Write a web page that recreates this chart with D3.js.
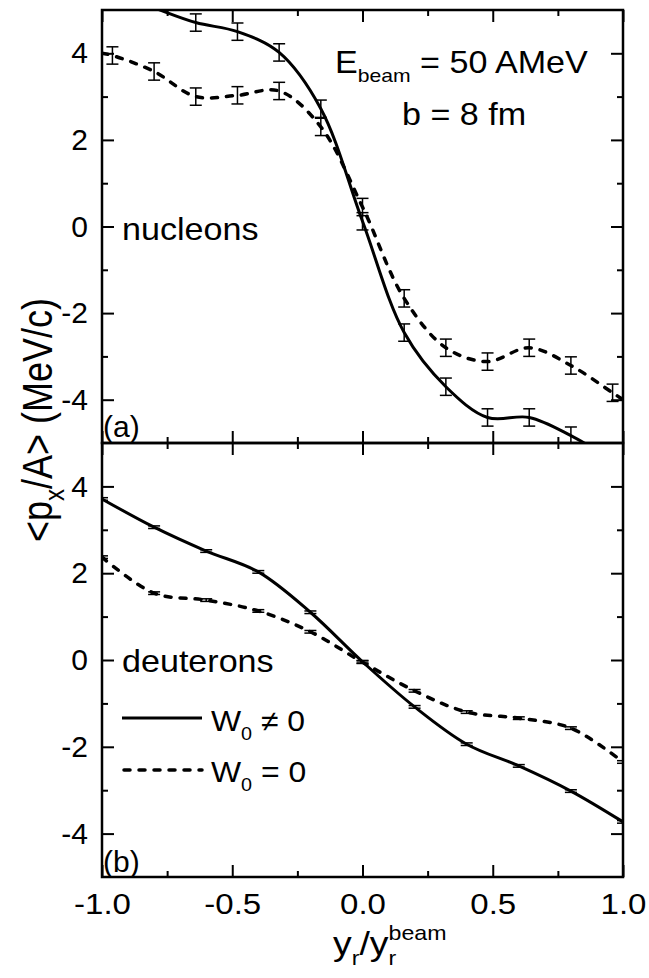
<!DOCTYPE html>
<html><head><meta charset="utf-8">
<script src="https://cdn.jsdelivr.net/npm/d3@7"></script>
<style>
body{margin:0;background:#fff}
text{font-family:"Liberation Sans",Arial,sans-serif;fill:#000;white-space:pre}
</style>
</head><body>
<svg id="c" width="649" height="978"></svg>
<script>
// ---------- data ----------
const xMajorTicks = [-1.0, -0.5, 0.0, 0.5, 1.0];
const xMinorTicks = [-0.75, -0.25, 0.25, 0.75];
const yMajorTicks = [-4, -2, 0, 2, 4];
const yMinorTicks = [-3, -1, 1, 3];

// nucleons, panel (a)
const nucX         = [-1.00, -0.96, -0.80, -0.64, -0.48, -0.32, -0.16, 0.00, 0.16, 0.32, 0.48, 0.64, 0.80, 0.96, 1.00];
const nucSolid     = [ 5.50,  5.40,  5.05,  4.71,  4.50,  4.02,  2.72, 0.12, -2.45, -3.70, -4.41, -4.41, -4.83, -5.40, -5.55];
const nucSolidErr  = [ 0,     0,     0,     0.20,  0.20,  0.20,  0.20, 0.20,  0.20,  0.20,  0.20,  0.20,  0.20,  0,     0];
const nucDashed    = [ 4.00,  3.95,  3.58,  3.00,  3.03,  3.13,  2.30, 0.45, -1.66, -2.80, -3.12, -2.80, -3.21, -3.84, -4.00];
const nucDashedErr = [ 0,     0.20,  0.20,  0.20,  0.20,  0.20,  0.20, 0.20,  0.20,  0.20,  0.20,  0.20,  0.20,  0.20,  0];

// deuterons, panel (b)
const deuX         = [-1.0, -0.8, -0.6, -0.4, -0.2,  0.0,  0.2,  0.4,  0.6,  0.8,  1.0];
const deuSolid     = [3.71, 3.06, 2.51, 2.03, 1.10, -0.04, -1.08, -1.94, -2.44, -3.02, -3.73];
const deuSolidErr  = [0.03, 0.03, 0.03, 0.03, 0.03, 0.03, 0.03, 0.03, 0.03, 0.03, 0.03];
const deuDashed    = [2.37, 1.54, 1.38, 1.13, 0.65, -0.05, -0.71, -1.20, -1.34, -1.57, -2.35];
const deuDashedErr = [0.03, 0.03, 0.03, 0.03, 0.03, 0.03, 0.03, 0.03, 0.03, 0.03, 0.03];

// ---------- layout ----------
const svg = d3.select("#c");
const L = 102, R = 623;
const SX = 1.1; // horizontal stretch of the reference lettering
const panels = [
  {top: 10, bottom: 443, xs: nucX, solid: nucSolid, sErr: nucSolidErr, dashed: nucDashed, dErr: nucDashedErr, name: "nucleons", nameY: 240, tag: "(a)", tagY: 437, labels: false},
  {top: 443, bottom: 877, xs: deuX, solid: deuSolid, sErr: deuSolidErr, dashed: deuDashed, dErr: deuDashedErr, name: "deuterons", nameY: 672, tag: "(b)", tagY: 872, labels: true}
];
const x = d3.scaleLinear().domain([-1, 1]).range([L, R]);

function label(x0, y0, size, str, sx = SX) {
  return svg.append("g").attr("transform", `translate(${x0},${y0}) scale(${sx},1)`)
    .append("text").attr("font-size", size).text(str);
}
function richText(x0, y0, parts, size, sx = SX) {
  const g = svg.append("g").attr("transform", `translate(${x0},${y0}) scale(${sx},1)`);
  let cx = 0;
  parts.forEach((pt) => {
    const fs = pt.s ? size * 0.62 : size;
    const dy = pt.s === "sub" ? size * 0.3 : pt.s === "sup" ? -size * 0.45 : 0;
    const t = g.append("text").attr("x", cx).attr("y", dy).attr("font-size", fs).text(pt.t);
    const w = t.node().getComputedTextLength();
    if (!pt.hold) cx += w;
  });
}

panels.forEach((p, i) => {
  const y = d3.scaleLinear().domain([-5, 5]).range([p.bottom, p.top]);
  p.y = y;
  const g = svg.append("g");
  const clipId = "clip" + i;
  svg.append("clipPath").attr("id", clipId).append("rect")
    .attr("x", L).attr("y", p.top).attr("width", R - L).attr("height", p.bottom - p.top);

  // axes (ticks inward)
  const mk = (axis, vals, size) => axis.tickValues(vals).tickSizeInner(-size).tickSizeOuter(0)
      .tickPadding(0).tickFormat(() => "");
  g.append("g").attr("transform", `translate(${L},0)`)
    .call(d3.axisLeft(y).tickValues(yMajorTicks).tickSizeInner(-12).tickSizeOuter(0).tickPadding(14).tickFormat((d) => String(d)));
  g.append("g").attr("transform", `translate(${L},0)`).call(mk(d3.axisLeft(y), yMinorTicks, 6));
  g.append("g").attr("transform", `translate(${R},0)`).call(mk(d3.axisRight(y), yMajorTicks, 12));
  g.append("g").attr("transform", `translate(${R},0)`).call(mk(d3.axisRight(y), yMinorTicks, 6));
  g.append("g").attr("transform", `translate(0,${p.top})`).call(mk(d3.axisTop(x), xMajorTicks, 12));
  g.append("g").attr("transform", `translate(0,${p.top})`).call(mk(d3.axisTop(x), xMinorTicks, 6));
  const bx = d3.axisBottom(x).tickValues(xMajorTicks).tickSizeInner(-12).tickSizeOuter(0).tickPadding(16)
      .tickFormat(p.labels ? (d) => d.toFixed(1) : () => "");
  const bxg = g.append("g").attr("transform", `translate(0,${p.bottom})`).call(bx);
  bxg.selectAll("text").attr("transform", `scale(${SX},1)`);
  g.append("g").attr("transform", `translate(0,${p.bottom})`).call(mk(d3.axisBottom(x), xMinorTicks, 6));
  g.selectAll(".domain").remove();
  g.selectAll(".tick line").attr("stroke", "#000").attr("stroke-width", 2);
  g.selectAll(".tick text").attr("font-size", 30).attr("font-family", '"Liberation Sans",Arial,sans-serif').attr("fill", "#000");

  // curves
  const line = d3.line().x((d) => x(d[0])).y((d) => y(d[1])).curve(d3.curveCatmullRom.alpha(0.5));
  const cg = svg.append("g").attr("clip-path", `url(#${clipId})`);
  cg.append("path").datum(p.xs.map((v, k) => [v, p.solid[k]])).attr("d", line)
    .attr("fill", "none").attr("stroke", "#000").attr("stroke-width", 3);
  cg.append("path").datum(p.xs.map((v, k) => [v, p.dashed[k]])).attr("d", line)
    .attr("fill", "none").attr("stroke", "#000").attr("stroke-width", 3.5)
    .attr("stroke-dasharray", "6,9").attr("stroke-linecap", "round");

  // error bars
  const pts = [];
  p.xs.forEach((v, k) => {
    if (p.sErr[k] > 0) pts.push([v, p.solid[k], p.sErr[k]]);
    if (p.dErr[k] > 0) pts.push([v, p.dashed[k], p.dErr[k]]);
  });
  const eg = cg.append("g").attr("stroke", "#000").attr("stroke-width", 1.5);
  const cap = 6;
  pts.forEach(([v, m, e]) => {
    const cx = x(v), y1 = y(m + e), y2 = y(m - e);
    eg.append("line").attr("x1", cx).attr("x2", cx).attr("y1", y1).attr("y2", y2);
    eg.append("line").attr("x1", cx - cap).attr("x2", cx + cap).attr("y1", y1).attr("y2", y1);
    eg.append("line").attr("x1", cx - cap).attr("x2", cx + cap).attr("y1", y2).attr("y2", y2);
  });

  // frame
  svg.append("rect").attr("x", L).attr("y", p.top).attr("width", R - L).attr("height", p.bottom - p.top)
    .attr("fill", "none").attr("stroke", "#000").attr("stroke-width", 2.5);

  // labels
  label(122, p.nameY, 31, p.name);
  label(103, p.tagY, 30, p.tag, 1.0);
});

// annotations
richText(335, 73, [{t: "E"}, {t: "beam", s: "sub"}, {t: " = 50 AMeV"}], 31);
label(402, 125, 31, "b = 8 fm");

// legend (panel b)
svg.append("line").attr("x1", 122).attr("x2", 202).attr("y1", 718).attr("y2", 718)
  .attr("stroke", "#000").attr("stroke-width", 3);
svg.append("line").attr("x1", 124).attr("x2", 202).attr("y1", 770).attr("y2", 770)
  .attr("stroke", "#000").attr("stroke-width", 3.5).attr("stroke-dasharray", "6,9").attr("stroke-linecap", "round");
richText(211, 731, [{t: "W"}, {t: "0", s: "sub"}, {t: " \u2260 0"}], 29);
richText(211, 782, [{t: "W"}, {t: "0", s: "sub"}, {t: " = 0"}], 29);

// x title
richText(333, 955, [{t: "y"}, {t: "r", s: "sub"}, {t: "/y"}, {t: "r", s: "sub", hold: true}, {t: "beam", s: "sup"}], 34);

// y title (rotated)
const yt = svg.append("text").attr("transform", "translate(52,420) rotate(-90) scale(1,1.18)")
  .attr("text-anchor", "middle").attr("font-size", 36);
yt.append("tspan").text("<p");
yt.append("tspan").attr("font-size", 24).attr("dy", 10).text("x");
yt.append("tspan").attr("dy", -10).text("/A> (MeV/c)");
</script>
</body></html>
